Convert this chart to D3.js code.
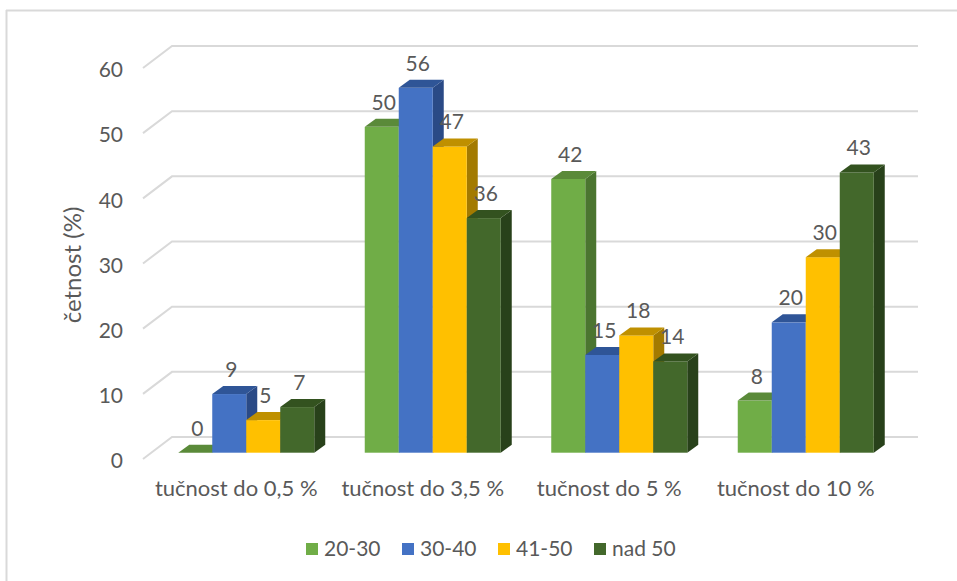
<!DOCTYPE html>
<html>
<head>
<meta charset="utf-8">
<script src="https://cdn.jsdelivr.net/npm/d3@7/dist/d3.min.js"></script>
<style>
  html, body { margin: 0; padding: 0; background: #fff; }
  svg { display: block; }
  text { font-family: Lato, "Noto Sans", sans-serif; fill: #595959; }
</style>
</head>
<body>
<svg id="chart" width="957" height="581"></svg>
<script>
// Categories, series and values
const categories = ["tučnost do 0,5 %", "tučnost do 3,5 %", "tučnost do 5 %", "tučnost do 10 %"];
const seriesNames = ["20-30", "30-40", "41-50", "nad 50"];
const s2030 = [0, 50, 42, 8];
const s3040 = [9, 56, 15, 20];
const s4150 = [5, 47, 18, 30];
const sNad50 = [7, 36, 14, 43];
const yTicks = [0, 10, 20, 30, 40, 50, 60];
const yTitle = "četnost (%)";

const seriesValues = [s2030, s3040, s4150, sNad50];

// Face colours per series: front, top, side
const palette = [
  { front: "#70AD47", top: "#5A8A39", side: "#4B7530" },
  { front: "#4472C4", top: "#2F5597", side: "#2A4A86" },
  { front: "#FFC000", top: "#BF9000", side: "#A37A00" },
  { front: "#43682B", top: "#33521F", side: "#28411A" }
];

const svg = d3.select("#chart");

// Outer frame (top and left edges)
svg.append("line").attr("x1", 6).attr("x2", 957).attr("y1", 10.5).attr("y2", 10.5)
  .attr("stroke", "#d9d9d9").attr("stroke-width", 2);
svg.append("line").attr("x1", 6.5).attr("x2", 6.5).attr("y1", 10).attr("y2", 581)
  .attr("stroke", "#d9d9d9").attr("stroke-width", 2);

// 3D geometry: front floor edge, back wall, oblique depth
const frontLeft = 143, frontRight = 889;
const wallDx = 29, wallDy = 22;          // depth offset of the back wall
const frontBase = 459;                   // y of value 0 at the front edge
const wallBase = frontBase - wallDy;     // y of value 0 on the back wall
const barBase = 452.7;                   // y of value 0 at bar front faces
const barDx = 11, barDy = 8;             // bar depth
const barShift = 10;                     // bars sit slightly behind the front edge

const h = d3.scaleLinear().domain([0, 60]).range([0, 391]);
const yFront = d3.scaleLinear().domain([0, 60]).range([frontBase, frontBase - 391]);

const x = d3.scaleBand().domain(categories).range([frontLeft, frontRight]).padding(0);

// Gridlines: short diagonal from the front edge, then across the back wall
const grid = svg.append("g");
yTicks.forEach(v => {
  const yb = wallBase - h(v);
  grid.append("path")
    .attr("d", `M${frontLeft},${yb + wallDy}L${frontLeft + wallDx},${yb}L${frontRight + wallDx},${yb}`)
    .attr("fill", "none").attr("stroke", "#d9d9d9").attr("stroke-width", 2);
});

// Value axis labels
const yAxis = d3.axisLeft(yFront).tickValues(yTicks).tickSize(0).tickPadding(0);
const yG = svg.append("g").attr("transform", "translate(123,2)").call(yAxis);
yG.select(".domain").remove();
yG.selectAll("text").style("font-size", "21px").attr("fill", "#595959")
  .style("font-family", "Lato, 'Noto Sans', sans-serif");

// Axis title
svg.append("text")
  .attr("transform", "translate(81,265) rotate(-90)")
  .attr("text-anchor", "middle")
  .style("font-size", "24px")
  .text(yTitle);

// Category labels
const xAxis = d3.axisBottom(x).tickSize(0).tickPadding(0);
const xG = svg.append("g").attr("transform", "translate(0,480)").call(xAxis);
xG.select(".domain").remove();
xG.selectAll("text").style("font-size", "22px").attr("fill", "#595959")
  .style("font-family", "Lato, 'Noto Sans', sans-serif");

// Bars
const bars = svg.append("g");
const labels = svg.append("g");
categories.forEach((cat, ci) => {
  const bx = x(cat) + barShift;
  const inner = d3.scaleBand().domain(seriesNames)
    .range([bx + x.bandwidth() / 2 - 68, bx + x.bandwidth() / 2 + 68]).padding(0);
  const w = inner.bandwidth();
  seriesNames.forEach((s, si) => {
    const v = seriesValues[si][ci];
    const x0 = inner(s), x1 = x0 + w;
    const yt = barBase - h(v);
    const c = palette[si];
    const g = bars.append("g");
    // side face
    g.append("path")
      .attr("d", `M${x1},${barBase}L${x1 + barDx},${barBase - barDy}L${x1 + barDx},${yt - barDy}L${x1},${yt}Z`)
      .attr("fill", c.side);
    // front face
    g.append("rect").attr("x", x0).attr("y", yt).attr("width", w).attr("height", h(v))
      .attr("fill", c.front);
    // top face
    g.append("path")
      .attr("d", `M${x0},${yt}L${x0 + barDx},${yt - barDy}L${x1 + barDx},${yt - barDy}L${x1},${yt}Z`)
      .attr("fill", c.top);
    // value label
    labels.append("text")
      .attr("x", x0 + w / 2 + 2)
      .attr("y", yt - barDy - 9)
      .attr("text-anchor", "middle")
      .style("font-size", "21px")
      .text(v);
  });
});

// Legend
const legendX = [306, 402, 498, 594];
const legend = svg.append("g");
seriesNames.forEach((s, si) => {
  legend.append("rect").attr("x", legendX[si]).attr("y", 543).attr("width", 12).attr("height", 12)
    .attr("fill", palette[si].front);
  legend.append("text").attr("x", legendX[si] + 18).attr("y", 556)
    .style("font-size", "21px").text(s);
});
</script>
</body>
</html>
